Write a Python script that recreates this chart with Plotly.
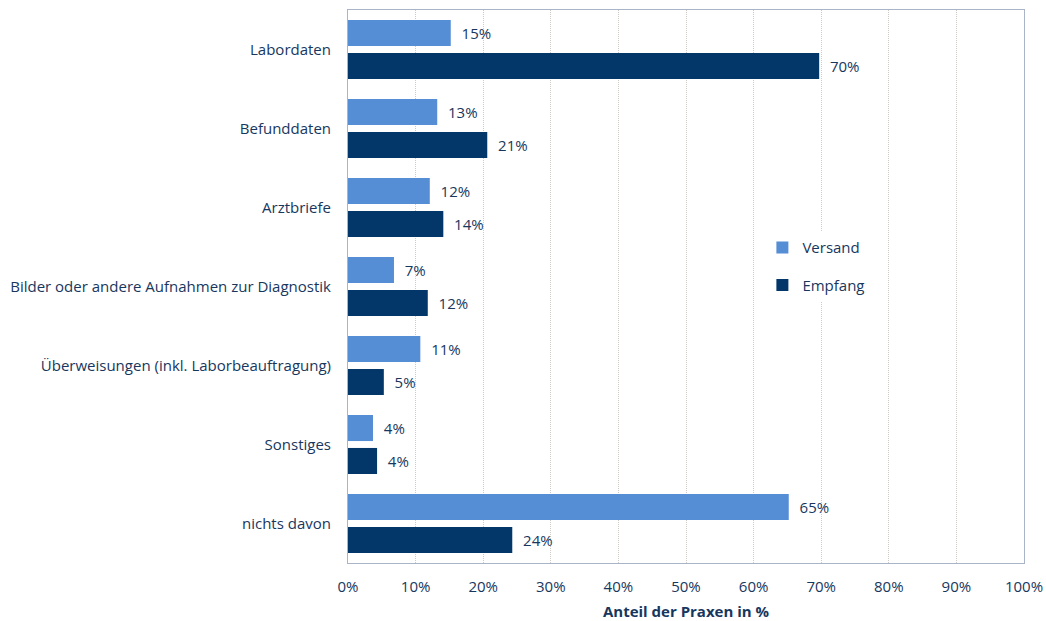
import plotly.graph_objects as go

categories = ["Labordaten", "Befunddaten", "Arztbriefe",
              "Bilder oder andere Aufnahmen zur Diagnostik",
              "Überweisungen (inkl. Laborbeauftragung)", "Sonstiges", "nichts davon"]
versand = [15.2, 13.2, 12.1, 6.8, 10.7, 3.7, 65.2]
empfang = [69.7, 20.6, 14.1, 11.8, 5.3, 4.3, 24.3]
versand_labels = ["15%", "13%", "12%", "7%", "11%", "4%", "65%"]
empfang_labels = ["70%", "21%", "14%", "12%", "5%", "4%", "24%"]
x_ticks = [0, 10, 20, 30, 40, 50, 60, 70, 80, 90, 100]
x_ticklabels = [f"{v}%" for v in x_ticks]

TXT = "#17375E"
FONT = "Open Sans"
FS = 15
PAD = "\u00a0\u00a0"

fig = go.Figure()
fig.add_trace(go.Bar(y=categories, x=versand, name="Versand", orientation="h",
                     legendgroup="v",
                     marker=dict(color="#558ED5", line=dict(width=0)),
                     text=[PAD + t for t in versand_labels], textposition="outside",
                     textfont=dict(color=TXT, size=FS, family=FONT), cliponaxis=False))
fig.add_trace(go.Bar(y=categories, x=empfang, name="Empfang", orientation="h",
                     legendgroup="e",
                     marker=dict(color="#03376A", line=dict(width=0)),
                     text=[PAD + t for t in empfang_labels], textposition="outside",
                     textfont=dict(color=TXT, size=FS, family=FONT), cliponaxis=False))

fig.update_layout(
    width=1046, height=621,
    margin=dict(l=348, r=22, t=10, b=58, autoexpand=False),
    paper_bgcolor="white", plot_bgcolor="white",
    barmode="group", bargap=0.165, bargroupgap=0.21,
    font=dict(family=FONT, size=FS, color=TXT),
    legend=dict(x=0.613, y=0.6, xanchor="left", yanchor="top",
                bgcolor="white", font=dict(size=FS, color=TXT, family=FONT),
                traceorder="grouped", itemwidth=30, tracegroupgap=15),
    xaxis=dict(range=[0, 100], tickvals=x_ticks, ticktext=x_ticklabels,
               showgrid=True, gridcolor="#CFCBC4", griddash="1px,1px", gridwidth=1,
               showline=True, linecolor="#A9B4C8", linewidth=1, mirror=True,
               ticks="", ticklabelstandoff=10, automargin=False,
               tickfont=dict(size=FS, color=TXT, family=FONT),
               title=dict(text="<b>Anteil der Praxen in %</b>",
                          font=dict(size=FS, color=TXT, family=FONT), standoff=14),
               zeroline=False),
    yaxis=dict(autorange="reversed", showline=True, linecolor="#A9B4C8", linewidth=1,
               mirror=True, ticks="", ticklabelstandoff=13, automargin=False,
               tickfont=dict(size=FS, color=TXT, family=FONT)),
)

fig.write_html("out.html", config={"displayModeBar": False})
with open("out.html", encoding="utf-8") as f:
    html = f.read()
html = html.replace("<head>", "<head><style>html,body{margin:0;padding:0;overflow:hidden}</style>", 1)
with open("out.html", "w", encoding="utf-8") as f:
    f.write(html)
